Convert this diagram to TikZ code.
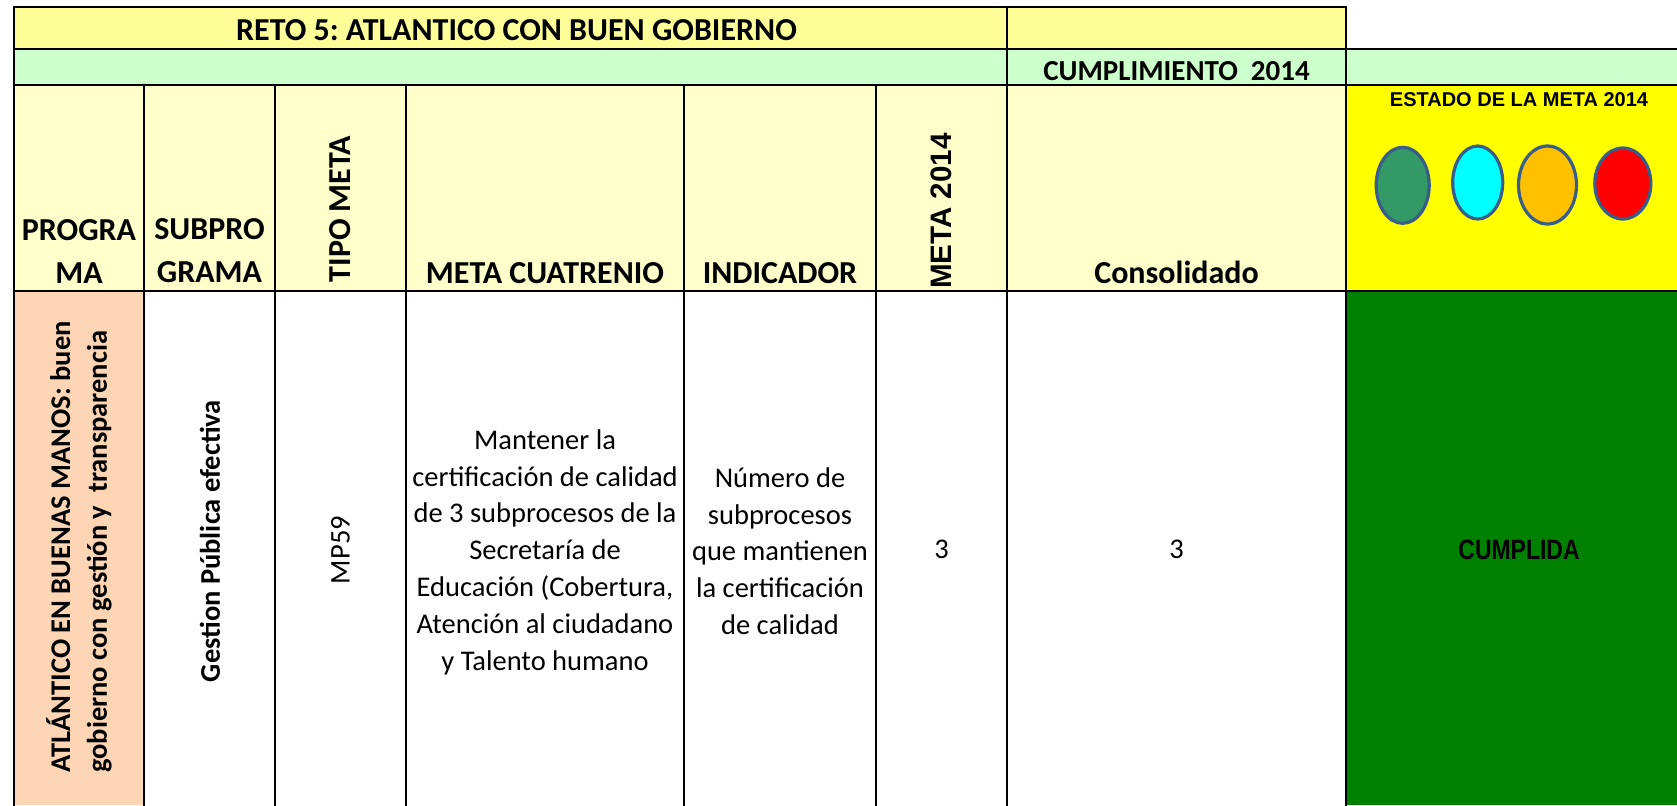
\documentclass[tikz,border=0pt]{standalone}
\usepackage{fontspec}
\setmainfont{Carlito}
\newfontfamily\arialfont{Liberation Sans}
\frenchspacing
\definecolor{titlefill}{HTML}{FFFF99}
\definecolor{hdrfill}{HTML}{FFFFCC}
\definecolor{rowgreen}{HTML}{CCFFCC}
\definecolor{salmon}{HTML}{FCD5B4}
\definecolor{estado}{HTML}{FFFF00}
\definecolor{cumplida}{HTML}{008000}
\definecolor{ovalline}{HTML}{385D8A}
\definecolor{ovgreen}{HTML}{339966}
\definecolor{ovcyan}{HTML}{00FFFF}
\definecolor{ovorange}{HTML}{FFC000}
\definecolor{ovred}{HTML}{FF0000}
\tikzset{
  grid/.style={line width=1pt, line cap=rect},
  hdr/.style={font=\frenchspacing\fontsize{16}{21.5}\selectfont\bfseries, align=center, inner sep=0pt},
  bodytxt/.style={font=\frenchspacing\fontsize{14.25}{18.4}\selectfont, align=center, inner sep=0pt},
  bodybold/.style={font=\frenchspacing\fontsize{14.25}{18.4}\selectfont\bfseries, align=center, inner sep=0pt},
  oval/.style={draw=ovalline, line width=1.6pt},
}
\begin{document}
\begin{tikzpicture}[x=0.5pt, y=-0.5pt]
\useasboundingbox (0,0) rectangle (1677,805);
% fills
\fill[titlefill] (14,7) rectangle (1346,49);
\fill[rowgreen] (14,49) rectangle (1677,85);
\fill[hdrfill] (14,85) rectangle (1346,291);
\fill[estado] (1346,85) rectangle (1677,291);
\fill[salmon] (14,291) rectangle (144,805);
\fill[cumplida] (1346,291) rectangle (1677,805);
% grid lines
\draw[grid] (14,7) -- (1346,7);
\draw[grid] (14,49) -- (1677,49);
\draw[grid] (14,85) -- (1677,85);
\draw[grid] (14,291) -- (1677,291);
\draw[grid] (14,7) -- (14,805);
\foreach \cx in {144,275,406,684,876} { \draw[grid] (\cx,85) -- (\cx,805); }
\draw[grid] (1007,7) -- (1007,805);
\draw[grid] (1346,7) -- (1346,805);
% title rows
\node[hdr, anchor=base] (title) at (516.5,40) {RETO 5: ATLANTICO CON BUEN GOBIERNO};
\node[hdr, font=\fontsize{14.5}{17}\selectfont\bfseries, anchor=base] (cumpl) at (1176.5,80) {CUMPLIMIENTO\ \ 2014};
% header row
\node[hdr] (hprog) at (79,251) {PROGRA\\MA};
\node[hdr] (hsub) at (209.5,251) {SUBPRO\\GRAMA};
\node[hdr, rotate=90] (htipo) at (340.5,209) {TIPO META};
\node[hdr, anchor=base] (hmeta) at (545,283) {META CUATRENIO};
\node[hdr, anchor=base] (hind) at (780,283) {INDICADOR};
\node[font=\arialfont\fontsize{14.8}{17}\selectfont\bfseries, inner sep=0pt, rotate=90] (hm14) at (941.5,211) {META 2014};
\node[hdr, anchor=base] (hcons) at (1176.5,283) {Consolidado};
\node[font=\arialfont\fontsize{10}{12}\selectfont\bfseries, inner sep=0pt, anchor=base] (hest) at (1519,106) {ESTADO DE LA META 2014};
% ovals
\draw[oval, fill=ovgreen] (1402.7,185.3) ellipse [x radius=26.5, y radius=38];
\draw[oval, fill=ovcyan] (1477.7,182.5) ellipse [x radius=25, y radius=36.5];
\draw[oval, fill=ovorange] (1547.5,185) ellipse [x radius=29, y radius=39];
\draw[oval, fill=ovred] (1622.8,183.5) ellipse [x radius=28, y radius=35.5];
% body row
\node[bodybold, rotate=90, align=left] (bprog) at (79,547) {ATLÁNTICO EN BUENAS MANOS: buen\\gobierno con gestión y\ \ transparencia};
\node[bodybold, rotate=90] (bsub) at (210,541) {Gestion Pública efectiva};
\node[bodytxt, rotate=90] (btipo) at (340.5,550) {MP59};
\node[bodytxt] (bmeta) at (545,552) {Mantener la\\certificación de calidad\\de 3 subprocesos de la\\Secretaría de\\Educación (Cobertura,\\Atención al ciudadano\\y Talento humano};
\node[bodytxt] (bind) at (780,551) {Número de\\subprocesos\\que mantienen\\la certificación\\de calidad};
\node[bodytxt, anchor=base] (bm14) at (941.5,558) {3};
\node[bodytxt, anchor=base] (bcons) at (1176.5,558) {3};
\node[font=\arialfont\fontsize{14}{16}\selectfont\bfseries, inner sep=0pt, anchor=base] (best) at (1519,559) {\scalebox{0.82}[1]{CUMPLIDA}};
\end{tikzpicture}
\end{document}
